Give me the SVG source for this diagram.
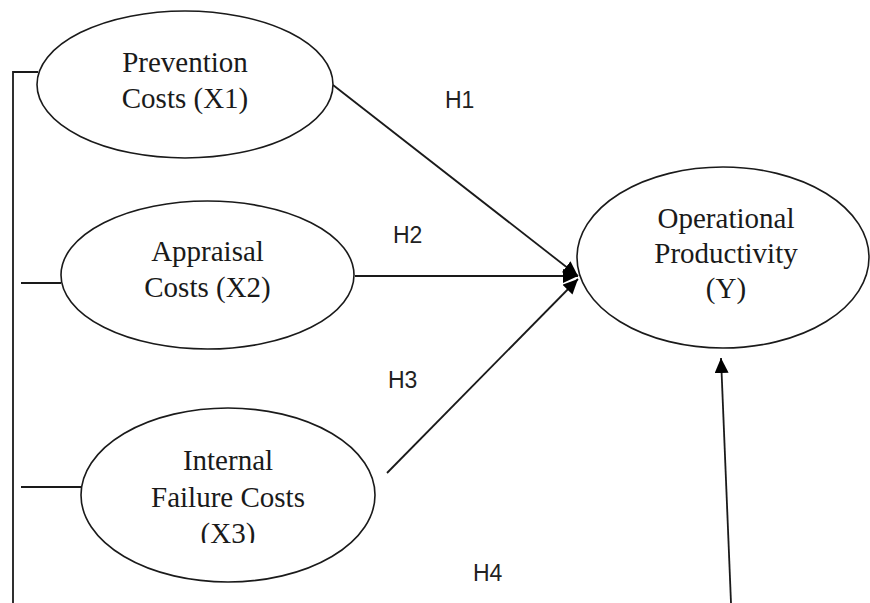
<svg xmlns="http://www.w3.org/2000/svg" width="870" height="603" viewBox="0 0 870 603">
<style>
  .node ellipse { fill: #fff; stroke: #1a1a1a; stroke-width: 1.6; }
  .node text { font-family: "Liberation Serif", "Times New Roman", serif; font-size: 29px; fill: #1a1a1a; text-anchor: middle; }
  .conn line, .conn polyline { stroke: #1a1a1a; stroke-width: 1.8; fill: none; }
  .lbl { font-family: "Liberation Sans", Arial, sans-serif; font-size: 23px; fill: #222; }
</style>
<defs>
  <marker id="arr" viewBox="0 0 15 14" refX="15" refY="7" markerWidth="15" markerHeight="14" markerUnits="userSpaceOnUse" orient="auto">
    <path d="M0,0 L15,7 L0,14 z" fill="#000"/>
  </marker>
  <clipPath id="clipX3"><rect x="0" y="0" width="870" height="543"/></clipPath>
</defs>
<rect width="870" height="603" fill="#fff"/>
<g class="conn" id="connectors">
  <polyline points="38,72 13,72 13,603"/>
  <line x1="21" y1="283" x2="61" y2="283"/>
  <line x1="21" y1="487" x2="81" y2="487"/>
  <line x1="333" y1="85" x2="578" y2="276" marker-end="url(#arr)"/>
  <line x1="355" y1="276" x2="578" y2="276" marker-end="url(#arr)"/>
  <line x1="387" y1="473" x2="578" y2="279" marker-end="url(#arr)"/>
  <line x1="731" y1="603" x2="721" y2="358" marker-end="url(#arr)"/>
</g>
<g class="node" id="x1">
  <ellipse cx="185" cy="84.5" rx="148" ry="73.5"/>
  <text x="185" y="72">Prevention</text>
  <text x="185" y="108">Costs (X1)</text>
</g>
<g class="node" id="x2">
  <ellipse cx="207.5" cy="275" rx="146.5" ry="74"/>
  <text x="207.5" y="261">Appraisal</text>
  <text x="207.5" y="297">Costs (X2)</text>
</g>
<g class="node" id="x3">
  <ellipse cx="228" cy="495" rx="147" ry="87"/>
  <text x="228" y="470">Internal</text>
  <text x="228" y="507">Failure Costs</text>
  <text x="228" y="543" clip-path="url(#clipX3)">(X3)</text>
</g>
<g class="node" id="y">
  <ellipse cx="723" cy="257.5" rx="146" ry="90.5"/>
  <text x="726" y="228">Operational</text>
  <text x="726" y="263">Productivity</text>
  <text x="726" y="298">(Y)</text>
</g>
<g id="labels">
  <text class="lbl" x="445" y="108">H1</text>
  <text class="lbl" x="393" y="243">H2</text>
  <text class="lbl" x="388" y="388">H3</text>
  <text class="lbl" x="473" y="581">H4</text>
</g>
</svg>
